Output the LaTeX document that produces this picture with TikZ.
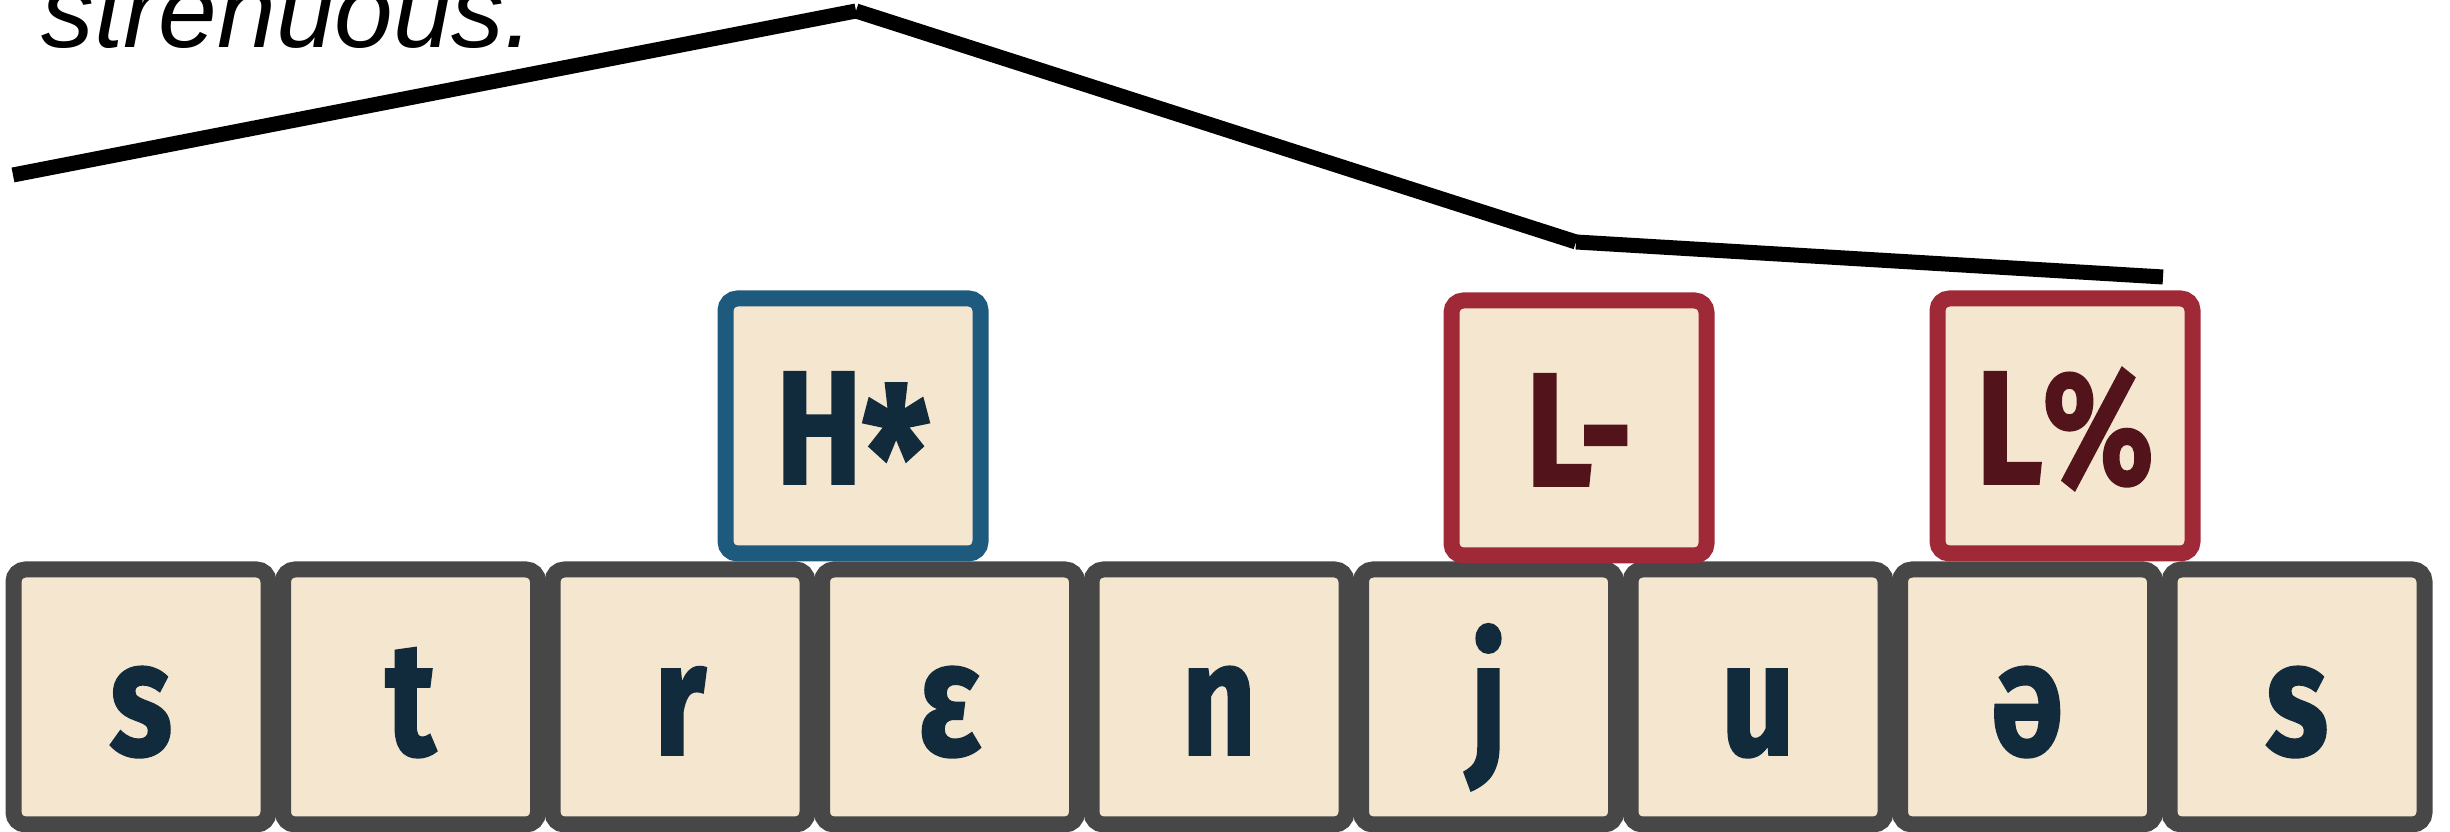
\documentclass[tikz,border=0pt]{standalone}
\usepackage{fontspec}
\setmainfont{Fira Sans}[BoldFeatures={FakeStretch=0.8,FakeBold=1.2}]
\newfontfamily\wordfont{Liberation Sans}
\usetikzlibrary{positioning}

\definecolor{tilefill}{HTML}{F5E6D0}
\definecolor{tileedge}{HTML}{474747}
\definecolor{phoneink}{HTML}{112B3C}
\definecolor{accentblue}{HTML}{1E5A7E}
\definecolor{accentred}{HTML}{A02938}
\definecolor{toneink}{HTML}{52141A}

\newcommand{\bigast}{\raisebox{-0.40cm}{\fontsize{54}{54}\selectfont*}}

\begin{document}
\begin{tikzpicture}[node distance=-0.015cm,
  tile/.style={rectangle, rounded corners=0.12cm, draw, fill=tilefill,
    line width=0.16cm, minimum size=2.55cm, inner sep=0pt,
    text height=1.16cm, text depth=0cm,
    font=\fontsize{46}{50}\selectfont\bfseries},
  phone/.style={tile, draw=tileedge, text=phoneink},
  hitone/.style={tile, draw=accentblue, text=phoneink},
  lotone/.style={tile, draw=accentred, text=toneink},
  contour/.style={line width=0.15cm, line cap=butt}]
\useasboundingbox (0,0) rectangle (24.5,8.32);

% the word
\node[anchor=base west, inner sep=0pt,
  font=\wordfont\itshape\fontsize{30}{32}\selectfont] (word) at (0.41,7.84) {strenuous.};

% segments
\node[phone] (s1) at (1.41,1.35) {s};
\node[phone] (t) [right=of s1] {t};
\node[phone] (r) [right=of t] {r};
\node[phone] (eps) [right=of r] {ɛ};
\node[phone] (n) [right=of eps] {n};
\node[phone] (j) [right=of n] {j};
\node[phone] (u) [right=of j] {u};
\node[phone] (schwa) [right=of u] {ə};
\node[phone] (s2) [right=of schwa] {s};

% tones
\node[hitone] (Hstar) at (8.53,4.06) {H\bigast};
\node[lotone] (Lminus) at (15.79,4.04) {L-};
\node[lotone] (Lpct) at (20.65,4.06) {L\%};

% pitch contour
\coordinate (f0a) at (0.13,6.57);
\coordinate (f0b) at (8.56,8.21);
\coordinate (f0c) at (15.76,5.90);
\coordinate (f0d) at (21.63,5.55);
\draw[contour] (f0a) -- (f0b);
\draw[contour] (f0b) -- (f0c);
\draw[contour] (f0c) -- (f0d);
\end{tikzpicture}
\end{document}
